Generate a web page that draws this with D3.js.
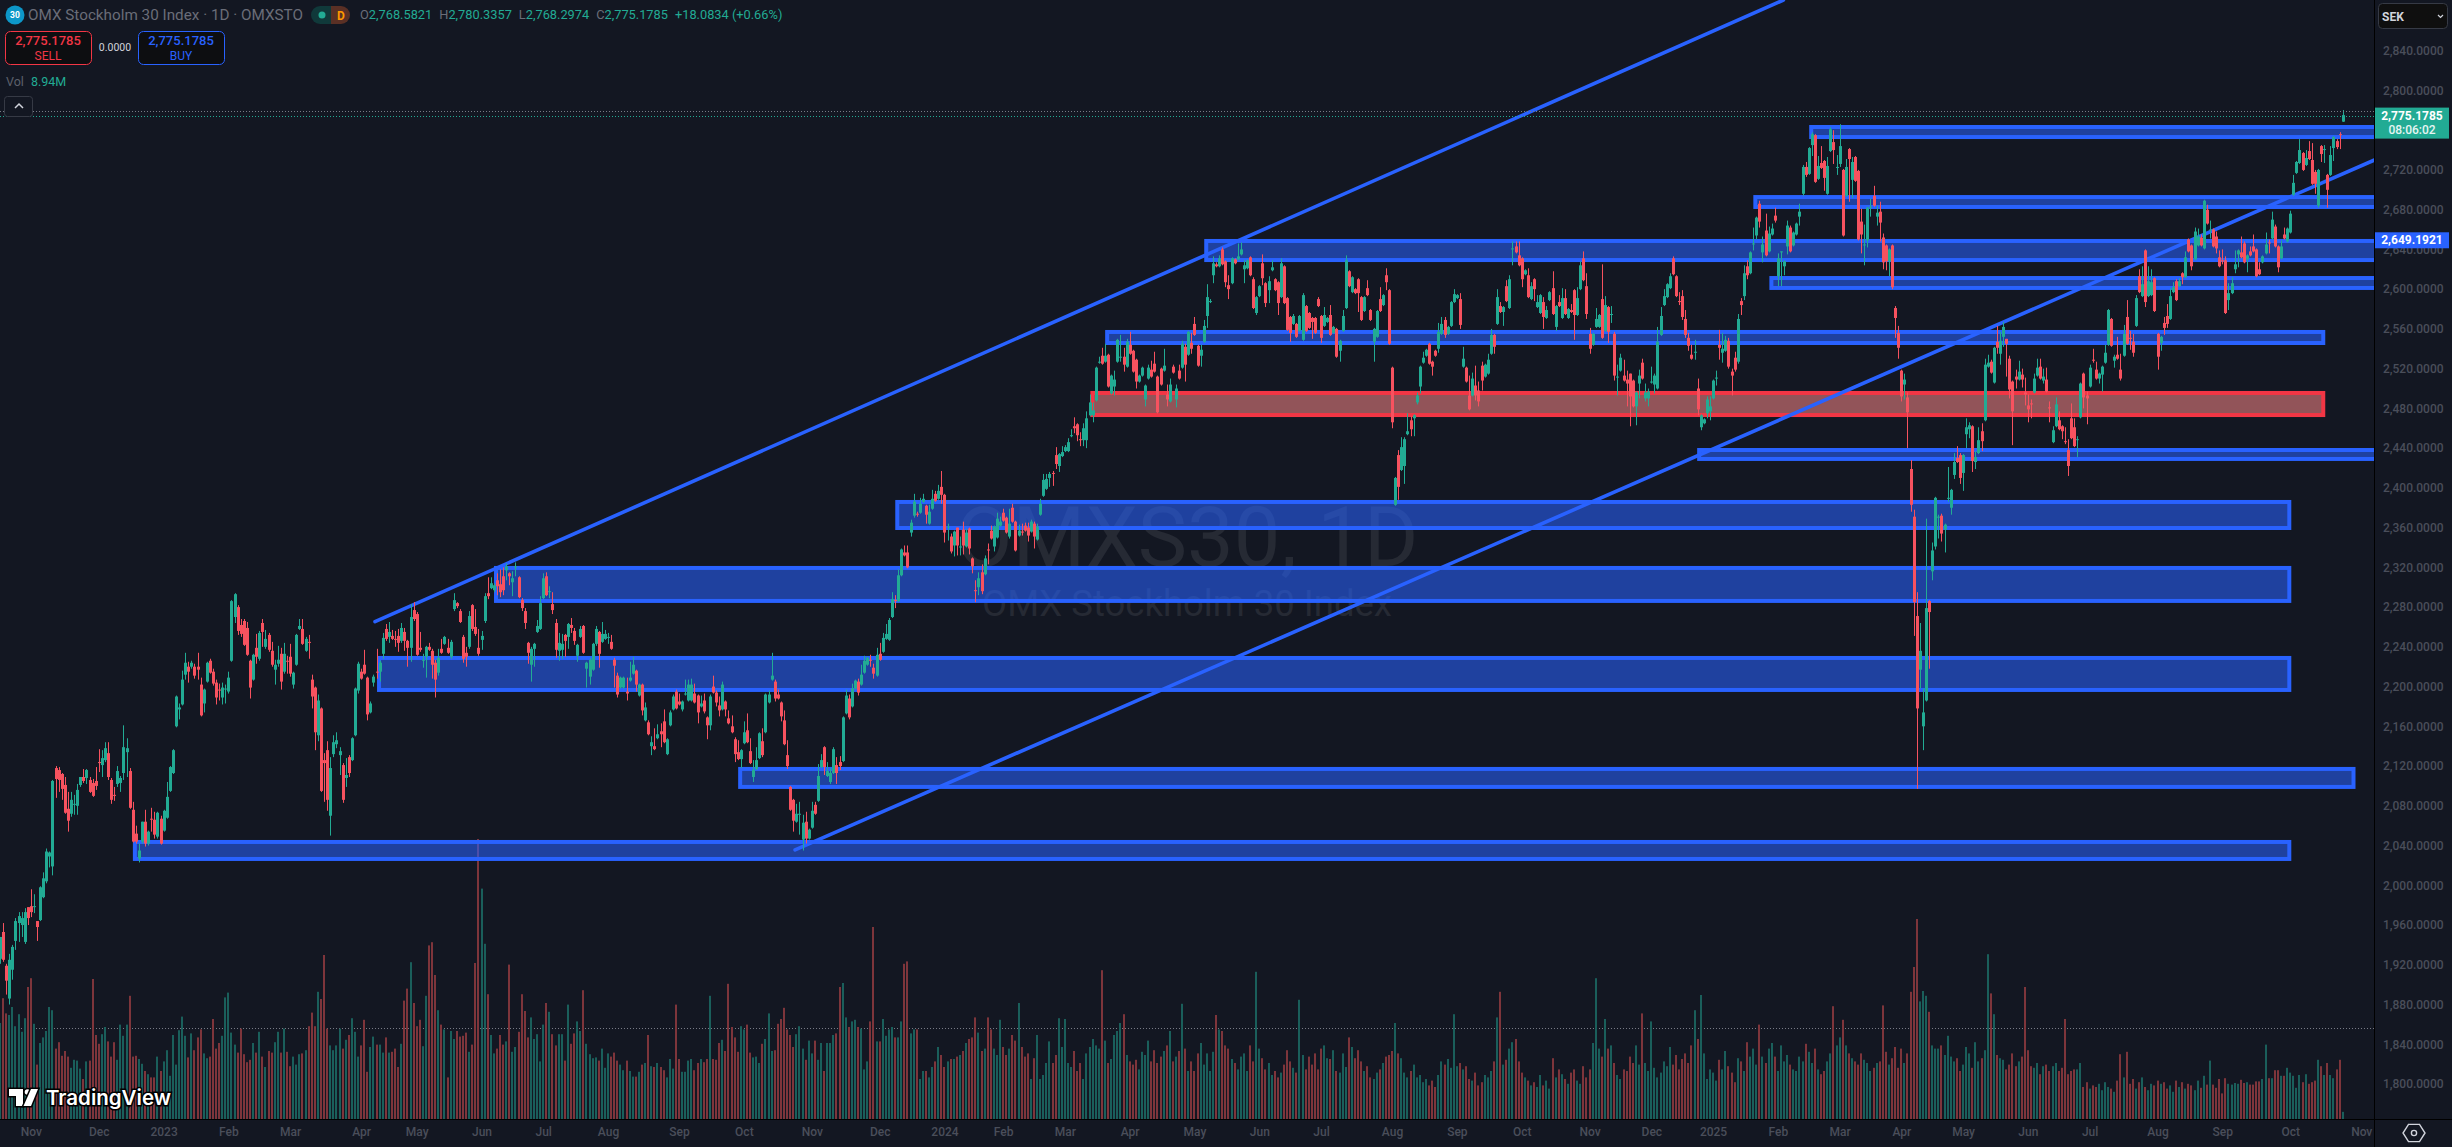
<!DOCTYPE html>
<html>
<head>
<meta charset="utf-8">
<title>OMX Stockholm 30 Index</title>
<script src="https://cdn.jsdelivr.net/npm/d3@7/dist/d3.min.js"></script>
<style>
html,body{margin:0;padding:0;background:#131722;overflow:hidden}
svg{display:block}
text{font-family:Roboto,"Noto Sans",sans-serif}
</style>
</head>
<body>
<script>
// Daily open / high / low / close, one row of the source table per 20 sessions
const opens = [
1926,1953,1919,1886,1915,1944,1962,1960,1943,1978,1979,1978,1964,1965,1988,2004,2029,2019,2118,2116,
2112,2101,2077,2072,2081,2080,2101,2109,2108,2106,2103,2105,2124,2121,2126,2133,2106,2091,2102,2103,
2113,2134,2115,2076,2052,2027,2044,2064,2042,2067,2066,2049,2067,2055,2068,2095,2113,2160,2177,2182,
2212,2220,2220,2220,2220,2202,2183,2205,2226,2215,2204,2197,2189,2197,2195,2226,2270,2280,2262,2266,
2259,2226,2207,2239,2228,2264,2240,2252,2236,2217,2223,2233,2215,2226,2230,2202,2222,2258,2258,2236,
2245,2207,2199,2151,2178,2126,2136,2070,2132,2142,2131,2121,2108,2129,2126,2151,2196,2215,2222,2209,
2174,2204,2215,2215,2233,2258,2250,2251,2248,2251,2246,2255,2246,2239,2277,2273,2239,2226,2230,2240,
2236,2224,2214,2238,2243,2239,2230,2278,2284,2276,2250,2234,2240,2282,2260,2239,2247,2266,2294,2299,
2297,2307,2303,2311,2317,2314,2305,2320,2310,2287,2276,2244,2222,2238,2255,2258,2289,2311,2295,2283,
2264,2236,2237,2252,2250,2262,2256,2231,2250,2261,2218,2210,2217,2243,2255,2245,2248,2249,2245,2227,
2211,2199,2199,2195,2206,2213,2216,2191,2202,2166,2164,2140,2140,2148,2155,2165,2132,2161,2177,2195,
2185,2177,2192,2186,2186,2193,2191,2180,2186,2169,2161,2200,2194,2181,2177,2185,2168,2160,2147,2134,
2127,2143,2156,2135,2109,2117,2128,2145,2154,2184,2207,2205,2192,2184,2166,2131,2099,2086,2064,2071,
2046,2064,2047,2058,2081,2085,2119,2139,2110,2104,2113,2121,2124,2125,2173,2188,2180,2198,2205,2202,
2214,2222,2227,2219,2211,2233,2235,2248,2247,2270,2287,2286,2312,2335,2335,2355,2372,2374,2375,2386,
2382,2364,2379,2394,2389,2401,2393,2360,2351,2342,2360,2340,2358,2341,2359,2329,2297,2300,2315,2313,
2338,2357,2341,2350,2362,2375,2370,2351,2380,2366,2352,2356,2362,2360,2356,2364,2348,2373,2392,2399,
2410,2415,2433,2422,2432,2437,2437,2452,2462,2464,2449,2448,2448,2473,2473,2488,2526,2533,2527,2534,
2495,2502,2527,2531,2532,2522,2544,2538,2529,2507,2513,2489,2510,2519,2525,2512,2520,2518,2494,2487,
2522,2489,2518,2521,2542,2534,2546,2565,2543,2533,2547,2573,2587,2614,2625,2623,2640,2628,2604,2606,
2630,2630,2635,2620,2621,2632,2610,2576,2593,2626,2606,2599,2619,2610,2607,2592,2623,2591,2572,2565,
2565,2558,2549,2583,2576,2571,2571,2590,2573,2563,2567,2574,2556,2560,2538,2558,2581,2618,2597,2600,
2610,2592,2578,2601,2579,2547,2552,2590,2584,2614,2599,2521,2383,2433,2418,2422,2454,2468,2470,2486,
2502,2526,2533,2545,2527,2538,2540,2555,2569,2555,2563,2587,2591,2590,2522,2521,2493,2493,2503,2498,
2523,2512,2515,2535,2554,2565,2583,2577,2603,2581,2640,2643,2634,2631,2615,2614,2590,2610,2582,2576,
2587,2571,2589,2601,2562,2587,2571,2591,2571,2579,2599,2574,2600,2631,2603,2555,2544,2562,2562,2590,
2558,2582,2574,2555,2511,2518,2513,2509,2515,2508,2482,2505,2526,2490,2490,2506,2504,2500,2554,2584,
2592,2601,2631,2613,2588,2593,2570,2551,2534,2536,2500,2461,2465,2475,2477,2490,2510,2544,2536,2538,
2548,2517,2531,2527,2588,2593,2623,2616,2645,2654,2686,2637,2659,2638,2655,2674,2613,2637,2623,2643,
2662,2644,2655,2673,2696,2723,2716,2745,2755,2711,2727,2729,2696,2739,2748,2722,2726,2720,2694,2741,
2710,2733,2719,2668,2644,2649,2682,2694,2673,2678,2652,2644,2628,2644,2581,2556,2518,2504,2491,2419,
2371,2271,2217,2160,2186,2286,2316,2341,2370,2372,2358,2389,2380,2413,2430,2433,2415,2454,2459,2462,
2426,2435,2457,2468,2522,2527,2506,2547,2535,2552,2550,2530,2507,2512,2509,2514,2496,2483,2485,2496,
2513,2522,2508,2509,2481,2446,2462,2468,2462,2447,2438,2470,2461,2448,2471,2515,2493,2502,2529,2519,
2510,2514,2526,2544,2570,2528,2534,2519,2533,2572,2551,2547,2563,2613,2593,2639,2593,2594,2611,2555,
2546,2566,2573,2570,2597,2608,2603,2616,2612,2650,2644,2630,2644,2652,2641,2680,2659,2660,2653,2632,
2629,2629,2589,2596,2620,2635,2637,2646,2630,2638,2643,2640,2620,2627,2636,2647,2651,2663,2643,2631,
2655,2648,2657,2695,2717,2727,2737,2725,2739,2730,2718,2684,2744,2740,2715,2715,2742,2749,2756,2768.5821
];
const highs = [
1948,1962,1921,1931,1940,1967,1973,1973,1977,1978,1996,1991,1964,1999,2013,2037,2034,2106,2120,2119,
2113,2109,2094,2094,2091,2102,2109,2117,2117,2109,2107,2119,2137,2136,2144,2144,2108,2099,2120,2110,
2161,2148,2118,2084,2060,2042,2064,2076,2055,2078,2074,2074,2070,2076,2104,2120,2137,2191,2183,2216,
2234,2225,2226,2223,2234,2209,2198,2225,2228,2218,2207,2203,2204,2202,2215,2287,2294,2282,2268,2268,
2265,2227,2233,2253,2256,2268,2257,2254,2245,2227,2241,2239,2244,2231,2243,2215,2253,2268,2268,2250,
2252,2212,2200,2192,2179,2133,2145,2129,2151,2154,2139,2123,2128,2131,2149,2199,2225,2218,2237,2210,
2185,2212,2238,2226,2254,2263,2265,2257,2256,2258,2264,2259,2247,2283,2285,2275,2255,2233,2241,2244,
2238,2227,2238,2248,2251,2248,2247,2294,2285,2278,2252,2240,2276,2283,2278,2258,2256,2294,2310,2310,
2304,2314,2318,2320,2324,2315,2316,2325,2311,2289,2279,2245,2240,2244,2267,2291,2314,2315,2301,2295,
2268,2254,2253,2253,2264,2269,2259,2243,2261,2262,2225,2229,2244,2261,2256,2265,2257,2254,2252,2229,
2214,2210,2210,2209,2225,2230,2217,2203,2203,2184,2166,2150,2158,2162,2163,2177,2148,2176,2192,2197,
2193,2186,2207,2207,2208,2203,2192,2191,2193,2170,2192,2211,2196,2190,2205,2186,2176,2171,2149,2146,
2137,2165,2173,2148,2126,2139,2154,2158,2193,2196,2234,2207,2197,2185,2176,2146,2100,2087,2082,2084,
2071,2074,2057,2084,2084,2122,2132,2140,2124,2118,2139,2129,2130,2170,2197,2192,2203,2207,2208,2222,
2231,2230,2232,2223,2239,2244,2254,2263,2269,2295,2292,2318,2339,2342,2342,2368,2394,2376,2390,2394,
2383,2383,2398,2397,2403,2417,2394,2364,2354,2357,2360,2351,2366,2359,2360,2330,2307,2315,2323,2332,
2344,2362,2362,2375,2371,2379,2371,2379,2384,2367,2363,2364,2365,2365,2368,2366,2364,2389,2414,2414,
2416,2417,2441,2435,2442,2443,2450,2459,2471,2465,2456,2465,2477,2494,2486,2522,2532,2541,2545,2535,
2514,2518,2550,2554,2541,2550,2557,2539,2530,2514,2522,2504,2524,2528,2537,2513,2521,2540,2504,2510,
2524,2504,2524,2548,2545,2558,2556,2572,2544,2544,2569,2605,2590,2633,2627,2634,2642,2629,2614,2632,
2631,2646,2647,2629,2630,2633,2612,2593,2604,2635,2607,2613,2629,2611,2608,2631,2624,2592,2573,2575,
2566,2574,2596,2584,2577,2572,2572,2592,2574,2582,2572,2584,2563,2561,2549,2579,2634,2619,2613,2601,
2611,2593,2593,2609,2580,2561,2579,2602,2595,2621,2600,2522,2411,2438,2451,2451,2475,2472,2474,2496,
2523,2537,2540,2546,2528,2539,2566,2572,2572,2563,2588,2600,2595,2596,2542,2522,2513,2516,2523,2507,
2527,2525,2535,2560,2555,2600,2587,2583,2609,2614,2648,2648,2648,2632,2620,2621,2607,2611,2594,2595,
2592,2583,2598,2618,2584,2594,2601,2600,2581,2585,2600,2602,2628,2638,2616,2561,2556,2581,2575,2625,
2593,2583,2583,2557,2524,2535,2529,2518,2515,2509,2497,2519,2530,2505,2500,2522,2515,2562,2582,2600,
2606,2616,2633,2614,2597,2599,2579,2556,2544,2549,2510,2474,2470,2492,2492,2509,2518,2559,2556,2553,
2551,2520,2537,2575,2591,2624,2629,2638,2662,2673,2689,2653,2676,2663,2666,2682,2636,2638,2629,2669,
2664,2658,2667,2686,2725,2728,2743,2758,2756,2734,2744,2730,2733,2763,2760,2735,2766,2721,2731,2742,
2733,2734,2720,2681,2665,2683,2691,2704,2684,2688,2656,2645,2641,2645,2583,2563,2519,2515,2496,2428,
2378,2295,2264,2198,2369,2287,2345,2391,2373,2374,2364,2421,2399,2435,2442,2435,2434,2470,2466,2463,
2437,2461,2465,2530,2534,2529,2542,2563,2557,2567,2550,2533,2508,2519,2528,2520,2511,2494,2489,2515,
2530,2530,2520,2521,2487,2462,2491,2477,2463,2461,2449,2485,2470,2452,2506,2516,2497,2524,2540,2527,
2516,2523,2544,2580,2571,2534,2552,2535,2564,2589,2558,2555,2594,2620,2623,2640,2623,2620,2612,2556,
2553,2572,2585,2601,2607,2610,2611,2617,2638,2651,2645,2662,2661,2655,2690,2685,2669,2661,2658,2639,
2640,2633,2606,2612,2639,2640,2653,2648,2635,2643,2655,2641,2627,2634,2657,2650,2678,2665,2644,2649,
2662,2662,2679,2715,2729,2751,2738,2740,2749,2747,2720,2721,2745,2745,2716,2744,2754,2751,2758,2780.3357
];
const lows = [
1921,1923,1890,1880,1905,1935,1943,1948,1941,1960,1968,1972,1944,1964,1987,2002,2018,2010,2088,2094,
2086,2072,2054,2069,2071,2071,2099,2103,2102,2093,2089,2096,2114,2109,2124,2106,2082,2085,2099,2094,
2106,2109,2077,2043,2042,2023,2042,2039,2040,2054,2047,2047,2041,2054,2067,2094,2112,2159,2167,2181,
2207,2204,2218,2208,2207,2170,2174,2204,2213,2201,2182,2186,2182,2183,2193,2225,2264,2252,2250,2241,
2231,2188,2206,2223,2226,2240,2238,2235,2220,2202,2220,2197,2213,2213,2210,2198,2221,2257,2242,2235,
2228,2178,2136,2145,2094,2084,2075,2050,2129,2138,2111,2083,2099,2109,2125,2150,2193,2207,2212,2166,
2173,2200,2208,2205,2228,2246,2244,2247,2240,2235,2244,2236,2220,2225,2266,2231,2235,2219,2209,2236,
2208,2189,2211,2233,2242,2233,2228,2276,2279,2264,2224,2220,2238,2256,2251,2231,2237,2264,2288,2298,
2295,2292,2290,2292,2307,2302,2291,2311,2289,2276,2258,2223,2205,2220,2254,2257,2288,2291,2289,2273,
2229,2226,2228,2230,2238,2254,2242,2225,2249,2233,2199,2202,2216,2241,2219,2244,2247,2243,2237,2199,
2189,2198,2198,2186,2205,2212,2195,2190,2171,2165,2151,2131,2136,2147,2139,2143,2131,2160,2176,2177,
2181,2175,2191,2185,2185,2183,2163,2179,2173,2147,2156,2193,2180,2170,2176,2170,2162,2153,2124,2126,
2118,2142,2143,2122,2104,2116,2127,2129,2153,2183,2206,2185,2187,2165,2141,2117,2075,2054,2063,2051,
2035,2042,2046,2057,2071,2084,2118,2111,2109,2102,2112,2102,2116,2124,2172,2167,2179,2197,2191,2201,
2213,2221,2220,2208,2210,2226,2234,2247,2246,2269,2279,2285,2311,2331,2319,2351,2370,2371,2374,2385,
2364,2363,2378,2386,2388,2384,2345,2347,2334,2331,2332,2332,2333,2340,2333,2314,2285,2292,2293,2312,
2323,2348,2336,2349,2361,2366,2354,2349,2365,2336,2351,2352,2356,2346,2355,2339,2347,2372,2391,2398,
2401,2402,2419,2416,2431,2436,2436,2451,2455,2447,2442,2442,2440,2472,2466,2487,2525,2524,2526,2501,
2494,2493,2526,2527,2517,2521,2534,2516,2500,2506,2512,2482,2509,2511,2516,2475,2503,2517,2482,2486,
2515,2481,2509,2520,2507,2533,2535,2553,2522,2522,2546,2561,2586,2606,2622,2622,2624,2602,2590,2605,
2625,2629,2634,2606,2620,2613,2580,2574,2592,2604,2582,2586,2618,2598,2574,2591,2585,2558,2547,2564,
2551,2557,2548,2557,2560,2550,2555,2582,2546,2562,2566,2553,2555,2531,2527,2557,2580,2602,2596,2595,
2577,2568,2577,2593,2568,2527,2551,2577,2583,2599,2544,2460,2382,2388,2417,2404,2453,2452,2452,2484,
2495,2525,2532,2524,2513,2532,2536,2554,2551,2554,2562,2586,2590,2560,2521,2506,2478,2492,2488,2482,
2498,2511,2514,2534,2535,2564,2576,2563,2587,2580,2624,2636,2623,2602,2614,2591,2589,2588,2581,2575,
2560,2570,2588,2574,2558,2582,2570,2574,2570,2576,2549,2573,2599,2608,2570,2535,2543,2561,2561,2550,
2557,2546,2566,2508,2493,2517,2507,2482,2462,2481,2463,2490,2509,2487,2482,2505,2495,2499,2553,2583,
2591,2600,2614,2592,2584,2569,2551,2538,2529,2529,2473,2458,2464,2470,2468,2489,2503,2529,2526,2537,
2520,2493,2517,2525,2574,2589,2610,2615,2639,2650,2662,2627,2633,2637,2654,2667,2603,2603,2614,2635,
2637,2643,2654,2664,2694,2713,2715,2734,2707,2710,2721,2699,2695,2738,2726,2715,2723,2653,2693,2688,
2692,2708,2649,2636,2624,2642,2673,2683,2664,2648,2620,2619,2613,2600,2551,2530,2487,2489,2440,2376,
2251,2097,2198,2136,2185,2218,2307,2338,2349,2346,2335,2386,2373,2409,2425,2404,2397,2440,2450,2416,
2419,2434,2437,2467,2521,2515,2505,2535,2524,2542,2512,2490,2443,2500,2508,2501,2483,2466,2470,2495,
2512,2509,2505,2496,2466,2445,2461,2458,2449,2444,2412,2449,2441,2431,2470,2480,2464,2501,2526,2509,
2505,2497,2525,2543,2542,2521,2529,2508,2532,2544,2539,2532,2562,2596,2592,2582,2592,2593,2577,2519,
2538,2554,2561,2569,2596,2588,2602,2605,2611,2637,2619,2629,2643,2643,2640,2665,2651,2642,2636,2622,
2625,2575,2579,2595,2616,2622,2631,2626,2617,2633,2637,2612,2614,2626,2635,2636,2650,2642,2617,2630,
2650,2647,2656,2694,2716,2726,2719,2724,2730,2705,2696,2682,2728,2727,2682,2714,2729,2741,2741,2768.2974
];
const closes = [
1948,1925,1904,1925,1938,1964,1969,1967,1973,1967,1973,1979,1958,1998,2007,2034,2033,2105,2107,2106,
2097,2073,2065,2086,2082,2096,2109,2105,2116,2094,2090,2100,2123,2128,2138,2109,2086,2090,2115,2108,
2139,2138,2078,2044,2044,2035,2064,2042,2054,2066,2051,2073,2042,2075,2089,2119,2136,2190,2179,2207,
2224,2215,2224,2211,2217,2171,2197,2224,2214,2203,2189,2196,2199,2198,2209,2286,2293,2256,2253,2242,
2232,2199,2232,2230,2254,2255,2248,2237,2222,2222,2227,2205,2233,2225,2213,2214,2252,2261,2243,2248,
2244,2190,2154,2186,2095,2123,2086,2118,2144,2146,2135,2086,2111,2113,2148,2198,2223,2208,2213,2172,
2183,2210,2214,2224,2249,2248,2255,2248,2247,2244,2259,2246,2239,2270,2268,2232,2237,2227,2240,2237,
2222,2207,2229,2234,2250,2234,2245,2287,2281,2265,2228,2230,2271,2258,2253,2233,2251,2291,2291,2304,
2302,2301,2295,2297,2321,2311,2309,2321,2290,2279,2264,2234,2238,2243,2261,2284,2309,2292,2296,2277,
2237,2244,2243,2246,2263,2259,2246,2242,2258,2234,2224,2227,2243,2258,2233,2253,2253,2250,2238,2221,
2192,2209,2209,2193,2209,2222,2202,2202,2176,2179,2152,2144,2137,2152,2152,2144,2147,2174,2190,2178,
2182,2185,2193,2202,2202,2184,2174,2183,2175,2161,2190,2194,2184,2176,2202,2177,2163,2154,2132,2127,
2136,2154,2144,2123,2116,2126,2153,2131,2192,2192,2211,2188,2188,2170,2142,2120,2076,2065,2072,2072,
2063,2047,2056,2075,2072,2110,2126,2119,2115,2113,2137,2113,2120,2169,2191,2169,2198,2206,2194,2212,
2226,2229,2226,2213,2232,2227,2249,2253,2267,2288,2286,2312,2338,2332,2320,2365,2386,2373,2384,2389,
2373,2376,2389,2387,2397,2393,2355,2361,2336,2356,2342,2341,2342,2355,2339,2321,2296,2309,2296,2329,
2337,2349,2361,2369,2366,2367,2355,2364,2366,2337,2357,2355,2357,2352,2366,2351,2361,2384,2408,2409,
2414,2414,2424,2434,2436,2441,2446,2453,2460,2453,2448,2460,2470,2486,2478,2521,2527,2525,2533,2502,
2513,2509,2549,2532,2524,2547,2535,2517,2507,2513,2521,2503,2521,2512,2517,2476,2504,2523,2489,2504,
2516,2500,2510,2545,2524,2557,2540,2554,2523,2539,2563,2592,2588,2626,2623,2631,2625,2607,2600,2631,
2626,2633,2640,2624,2629,2614,2581,2592,2603,2611,2586,2608,2622,2599,2586,2626,2586,2559,2556,2573,
2552,2573,2594,2558,2561,2567,2556,2583,2551,2574,2571,2554,2562,2532,2548,2573,2629,2603,2612,2596,
2596,2569,2592,2594,2569,2560,2578,2578,2594,2607,2545,2466,2410,2401,2441,2449,2457,2459,2473,2493,
2522,2531,2539,2525,2522,2533,2557,2565,2554,2562,2587,2595,2594,2564,2530,2507,2479,2510,2493,2487,
2508,2524,2529,2554,2542,2592,2577,2582,2588,2610,2641,2637,2624,2610,2619,2592,2603,2600,2587,2594,
2572,2579,2597,2575,2583,2583,2591,2575,2580,2577,2574,2591,2624,2609,2575,2540,2555,2570,2574,2551,
2584,2557,2575,2513,2512,2531,2508,2505,2492,2482,2496,2513,2510,2496,2497,2507,2513,2547,2573,2593,
2605,2613,2615,2593,2587,2572,2554,2543,2530,2537,2479,2473,2469,2489,2482,2508,2511,2541,2540,2549,
2522,2513,2519,2570,2584,2616,2614,2637,2646,2672,2668,2645,2634,2656,2661,2669,2631,2638,2628,2664,
2638,2657,2666,2678,2723,2715,2742,2756,2708,2724,2722,2712,2724,2761,2740,2723,2744,2654,2723,2731,
2728,2709,2650,2655,2645,2682,2683,2684,2677,2667,2627,2628,2640,2602,2571,2541,2492,2509,2476,2383,
2285,2178,2236,2174,2279,2275,2337,2390,2371,2354,2363,2390,2398,2426,2426,2410,2433,2461,2463,2427,
2431,2448,2447,2524,2526,2516,2541,2541,2548,2562,2545,2499,2477,2509,2517,2509,2494,2479,2484,2510,
2521,2510,2512,2497,2480,2458,2484,2459,2457,2446,2422,2450,2442,2449,2505,2491,2490,2521,2528,2510,
2515,2522,2536,2579,2543,2532,2530,2510,2555,2545,2550,2536,2591,2597,2605,2587,2608,2607,2578,2532,
2552,2561,2565,2593,2602,2589,2608,2612,2632,2638,2623,2658,2653,2644,2689,2666,2660,2643,2641,2623,
2628,2576,2596,2606,2625,2639,2632,2627,2634,2634,2638,2613,2615,2633,2645,2646,2670,2643,2622,2643,
2651,2661,2676,2707,2728,2740,2720,2732,2731,2706,2706,2720,2736,2741,2700,2735,2753,2743,2755,2775.1785
];
// Session volume in millions of shares
const volumes = [
120,151,132,130,140,116,131,109,126,165,176,119,68,95,102,110,140,136,88,96,
79,85,78,64,74,73,63,50,72,73,175,105,94,106,115,97,78,96,74,118,
104,118,154,78,79,75,69,60,56,52,52,78,60,72,86,54,105,68,111,128,
104,77,107,86,102,112,82,76,78,125,88,95,104,152,158,108,93,83,113,81,
71,74,95,83,109,78,65,85,83,96,109,83,113,84,66,78,68,81,82,86,
116,133,116,159,150,205,113,92,86,92,113,88,99,105,126,109,78,92,124,59,
90,103,93,93,83,102,83,84,88,65,94,148,163,196,145,116,124,91,154,217,
221,180,136,118,112,52,110,100,110,103,104,108,84,93,195,350,288,219,156,105,
82,88,105,93,97,193,84,90,109,156,135,102,127,100,106,72,118,145,134,106,
92,106,106,73,143,94,107,122,110,161,94,81,76,77,73,88,64,82,78,83,
73,68,61,73,60,53,53,59,68,70,105,66,65,70,65,61,52,75,63,143,
75,59,59,73,75,61,70,75,71,75,154,75,74,95,99,85,169,115,102,84,
116,112,118,83,77,78,70,94,100,132,85,86,119,125,139,112,105,90,106,116,
88,74,98,82,98,74,95,60,95,95,105,107,165,170,127,115,122,124,115,113,
62,72,122,240,97,97,125,104,112,115,102,102,122,194,197,107,112,112,50,60,
60,52,65,72,90,80,65,72,75,75,78,80,85,95,100,102,127,108,85,88,
127,112,88,80,124,90,80,88,105,98,145,90,78,82,50,76,105,50,55,70,
97,70,80,126,90,125,70,65,85,60,70,50,82,90,100,92,88,186,98,70,
75,105,110,120,131,80,72,68,74,62,84,80,98,72,86,70,78,85,92,110,
72,78,85,144,88,60,72,60,82,95,68,82,60,84,130,112,110,92,88,75,
70,62,78,82,60,92,72,184,88,76,62,70,55,60,52,58,68,86,72,64,
58,149,80,62,78,68,82,62,88,92,76,75,86,60,58,82,65,102,90,76,
86,72,60,66,52,50,58,62,70,78,80,85,120,82,76,58,52,60,68,52,
55,46,50,42,48,40,55,72,68,75,64,131,66,70,62,66,50,48,58,42,
46,55,52,60,72,127,159,68,74,88,96,100,72,58,52,48,42,46,40,55,
42,48,38,76,52,62,56,50,44,58,62,48,44,66,52,62,95,176,88,78,
125,88,92,70,55,50,62,60,78,70,92,68,132,70,60,122,64,52,58,72,
66,90,68,80,62,75,82,70,92,136,100,155,82,50,62,58,48,74,62,85,
66,58,46,76,72,60,96,78,88,68,118,78,70,88,95,78,60,92,72,80,
68,62,60,78,72,94,84,70,88,62,56,60,72,82,141,92,102,124,92,82,
76,72,68,82,74,70,60,64,70,72,142,84,68,76,90,64,88,70,82,159,
190,250,147,160,154,134,92,88,88,92,80,104,78,72,76,60,68,90,82,64,
96,72,76,86,206,157,131,80,76,74,62,68,82,66,72,78,165,86,66,64,
70,56,66,68,60,66,70,60,64,125,56,60,62,62,70,40,46,38,42,40,
44,36,46,40,38,34,48,81,52,84,44,50,38,46,52,40,36,44,42,48,
44,46,38,42,34,48,40,46,38,44,42,36,48,39,54,43,73,43,39,50,
32,51,44,43,45,44,49,45,46,43,43,47,47,50,93,51,51,61,61,54,
54,64,58,54,39,55,46,56,44,46,48,74,66,55,70,55,51,62,74,8.94
];

// Horizontal zones: first bar, last bar, upper price, lower price
const zoneStart = [43.7,239.8,122.8,160.7,290.7,550.5,358.7,568.7,573.9,390.8,586.8];
const zoneEnd   = [741.7,762.5,741.7,741.7,741.7,790,752.7,790,790,790,790];
const zoneTop   = [2043.6,2117.1,2228.8,2319.4,2385.8,2438.1,2556.9,2692.7,2611.2,2648.5,2763.2];
const zoneBase  = [2026.5,2099.0,2196.6,2286.2,2359.6,2429.1,2545.8,2682.7,2601.2,2629.3,2753.1];
// Demand zone drawn in red
const redZone = {start:353.9,end:752.7,top:2495.5,base:2473.3};

// Rising trend lines: bar and price at each end
const upperTrend = {bars:[121.5,577.8],prices:[2265.3,2891]};
const lowerTrend = {bars:[257.6,769.3],prices:[2035.6,2730]};

// Axis labels
const monthBars = [10,32,53,74,94,117,135,156,176,197,220,241,263,285,306,325,345,366,387,408,428,451,472,493,515,535,555,576,596,616,636,657,677,699,720,742,765];
const monthLabels = ["Nov","Dec","2023","Feb","Mar","Apr","May","Jun","Jul","Aug","Sep","Oct","Nov","Dec","2024","Feb","Mar","Apr","May","Jun","Jul","Aug","Sep","Oct","Nov","Dec","2025","Feb","Mar","Apr","May","Jun","Jul","Aug","Sep","Oct","Nov"];
const priceTicks = d3.range(1800,2841,40);

const lastClose = 2775.1785, sessionHigh = 2779, zoneLabel = 2649.1921, avgVolume = 114;

const W = 2452, H = 1147, plotRight = 2374, plotBottom = 1119;
const BG = "#131722", UP = "#22ab94", DOWN = "#f7525f", BLUE = "#2962ff", RED = "#f23645", AXIS = "#4a4e5a";

const n = closes.length;
const x = d3.scaleLinear().domain([0,n-1]).range([0,2342.7]);
const y = d3.scaleLinear().domain([2840,1800]).range([50.7,1084]);
const v = d3.scaleLinear().domain([0,350]).range([plotBottom,plotBottom-280]);
const isUp = i => closes[i] >= opens[i];
const px = i => Math.round(x(i));

const svg = d3.select("body").append("svg").attr("width",W).attr("height",H);
svg.append("rect").attr("width",W).attr("height",H).attr("fill",BG);
svg.append("clipPath").attr("id","plot").append("rect").attr("width",plotRight).attr("height",plotBottom);

// Symbol watermark behind the series
const wm = svg.append("g").attr("fill","#262a34").attr("text-anchor","middle").style("font-family","'Liberation Sans',sans-serif");
wm.append("text").attr("x",1187).attr("y",566).attr("font-size",83).text("OMXS30, 1D");
wm.append("text").attr("x",1187).attr("y",616).attr("font-size",36.5).text("OMX Stockholm 30 Index");

const plot = svg.append("g").attr("clip-path","url(#plot)");

// Volume pane
plot.append("line").attr("x1",0).attr("x2",plotRight).attr("y1",Math.round(v(avgVolume))+.5).attr("y2",Math.round(v(avgVolume))+.5)
  .attr("stroke","#787b86").attr("stroke-dasharray","1 2");
plot.append("g").selectAll("rect").data(d3.range(n)).join("rect")
  .attr("x",i=>px(i)-1).attr("width",2)
  .attr("y",i=>v(volumes[i])).attr("height",i=>plotBottom-v(volumes[i]))
  .attr("fill",i=>isUp(i)?"#1a5f5b":"#7e353b");

// Zones
plot.append("g").selectAll("rect").data(d3.range(zoneStart.length)).join("rect")
  .attr("x",i=>x(zoneStart[i])).attr("width",i=>x(zoneEnd[i])-x(zoneStart[i]))
  .attr("y",i=>y(zoneTop[i])).attr("height",i=>y(zoneBase[i])-y(zoneTop[i]))
  .attr("fill","rgba(41,98,255,0.57)").attr("stroke",BLUE).attr("stroke-width",4);
plot.append("rect")
  .attr("x",x(redZone.start)).attr("width",x(redZone.end)-x(redZone.start))
  .attr("y",y(redZone.top)).attr("height",y(redZone.base)-y(redZone.top))
  .attr("fill","#925459").attr("stroke",RED).attr("stroke-width",4);

// Trend lines
[upperTrend,lowerTrend].forEach(t=>{
  plot.append("line")
    .attr("x1",x(t.bars[0])).attr("y1",y(t.prices[0]))
    .attr("x2",x(t.bars[1])).attr("y2",y(t.prices[1]))
    .attr("stroke",BLUE).attr("stroke-width",3.6).attr("stroke-linecap","round");
});

// Candles
const candle = plot.append("g").selectAll("g").data(d3.range(n)).join("g")
  .attr("fill",i=>isUp(i)?UP:DOWN);
candle.append("rect").attr("x",px).attr("width",1)
  .attr("y",i=>y(highs[i])).attr("height",i=>Math.max(1,y(lows[i])-y(highs[i])));
candle.append("rect").attr("x",i=>px(i)-1).attr("width",3)
  .attr("y",i=>y(Math.max(opens[i],closes[i])))
  .attr("height",i=>Math.max(1,Math.abs(y(opens[i])-y(closes[i]))));

// Session high and last price lines
plot.append("line").attr("x1",0).attr("x2",plotRight).attr("y1",Math.round(y(sessionHigh))+.5).attr("y2",Math.round(y(sessionHigh))+.5)
  .attr("stroke","#787b86").attr("stroke-dasharray","1 2");
plot.append("line").attr("x1",0).attr("x2",plotRight).attr("y1",Math.round(y(lastClose))+1.5).attr("y2",Math.round(y(lastClose))+1.5)
  .attr("stroke",UP).attr("stroke-dasharray","1 2");

// Axes
const yAxis = svg.append("g").attr("transform",`translate(${plotRight},0)`)
  .call(d3.axisRight(y).tickValues(priceTicks).tickSize(0).tickPadding(9).tickFormat(d3.format(",.4f")));
const xAxis = svg.append("g").attr("transform",`translate(0,${plotBottom})`)
  .call(d3.axisBottom(x).tickValues(monthBars).tickSize(0).tickPadding(8).tickFormat((d,i)=>monthLabels[i]));
[yAxis,xAxis].forEach(a=>{
  a.select(".domain").remove();
  a.selectAll("text").attr("fill",AXIS).attr("font-size",12).style("font-family","Roboto,sans-serif").style("font-weight",500);
});
svg.append("line").attr("x1",plotRight+.5).attr("x2",plotRight+.5).attr("y1",0).attr("y2",H).attr("stroke","#000");
svg.append("line").attr("x1",0).attr("x2",W).attr("y1",plotBottom+.5).attr("y2",plotBottom+.5).attr("stroke","#000");

const fmt = d3.format(",.4f");
// Price tags on the axis
svg.append("rect").attr("x",plotRight+1).attr("y",y(lastClose)-7.5).attr("width",74).attr("height",31).attr("fill",UP);
svg.append("text").attr("x",plotRight+38).attr("y",y(lastClose)+5).attr("text-anchor","middle").attr("fill","#fff").attr("font-size",12).attr("font-weight",700).text(fmt(lastClose));
svg.append("text").attr("x",plotRight+38).attr("y",y(lastClose)+19).attr("text-anchor","middle").attr("fill","#e6f5f2").attr("font-size",12).attr("font-weight",500).text("08:06:02");
svg.append("rect").attr("x",plotRight+1).attr("y",y(zoneLabel)-8).attr("width",74).attr("height",16).attr("fill",BLUE);
svg.append("text").attr("x",plotRight+38).attr("y",y(zoneLabel)+4).attr("text-anchor","middle").attr("fill","#fff").attr("font-size",12).attr("font-weight",700).text(fmt(zoneLabel));

// Currency selector
svg.append("rect").attr("x",2378.5).attr("y",3.5).attr("width",69).attr("height",25).attr("rx",4).attr("fill","#0f0f0f").attr("stroke","#363a45");
svg.append("text").attr("x",2382).attr("y",20.5).attr("fill","#d1d4dc").attr("font-size",12).attr("font-weight",700).text("SEK");
svg.append("path").attr("d","M2438 15l2.5 2.5 2.5-2.5").attr("fill","none").attr("stroke","#d1d4dc").attr("stroke-width",1.2);

// Settings hexagon
const hex = d3.range(6).map(k=>{const a=Math.PI/3*k;return [2414+11*Math.cos(a),1133+10*Math.sin(a)];});
svg.append("path").attr("d",d3.line()(hex)+"Z").attr("fill","none").attr("stroke","#d1d4dc").attr("stroke-width",1.4);
svg.append("circle").attr("cx",2414).attr("cy",1133).attr("r",2.6).attr("fill","none").attr("stroke","#d1d4dc").attr("stroke-width",1.4);

// Header legend
svg.append("circle").attr("cx",15).attr("cy",15).attr("r",9.5).attr("fill","#0d97c9");
svg.append("text").attr("x",15).attr("y",18).attr("text-anchor","middle").attr("fill","#fff").attr("font-size",8.5).attr("font-weight",700).text("30");
svg.append("text").attr("x",28).attr("y",20).attr("fill","#6a6d78").attr("font-size",14.5).attr("textLength",275).attr("lengthAdjust","spacingAndGlyphs").text("OMX Stockholm 30 Index \u00b7 1D \u00b7 OMXSTO");
svg.append("path").attr("d","M331 6h-11a9 9 0 0 0 0 18h11z").attr("fill","#10393a");
svg.append("path").attr("d","M331 6h10a9 9 0 0 1 0 18h-10z").attr("fill","#5a3025");
svg.append("circle").attr("cx",322).attr("cy",15).attr("r",3.5).attr("fill",UP);
svg.append("text").attr("x",341).attr("y",19.5).attr("text-anchor","middle").attr("fill","#ff9800").attr("font-size",12).attr("font-weight",700).text("D");

const ohlc = svg.append("text").attr("x",360).attr("y",19).attr("font-size",12.8).attr("fill",UP);
[["O",opens[n-1]],["H",highs[n-1]],["L",lows[n-1]],["C",closes[n-1]]].forEach(([k,val],j)=>{
  ohlc.append("tspan").attr("fill","#6a6d78").attr("dx",j?7:0).text(k);
  ohlc.append("tspan").text(fmt(val));
});
ohlc.append("tspan").attr("dx",7).text("+18.0834 (+0.66%)");

// Order buttons
const order = (x0,col,label)=>{
  svg.append("rect").attr("x",x0+.5).attr("y",31.5).attr("width",86).attr("height",33).attr("rx",5).attr("fill","#0d0e11").attr("stroke",col);
  svg.append("text").attr("x",x0+43).attr("y",45).attr("text-anchor","middle").attr("fill",col).attr("font-size",13).attr("font-weight",500).text(fmt(lastClose));
  svg.append("text").attr("x",x0+43).attr("y",60).attr("text-anchor","middle").attr("fill",col).attr("font-size",12).text(label);
};
order(5,RED,"SELL");
order(138,BLUE,"BUY");
svg.append("text").attr("x",115).attr("y",51).attr("text-anchor","middle").attr("fill","#d1d4dc").attr("font-size",10.5).text("0.0000");

svg.append("text").attr("x",6).attr("y",86).attr("fill","#5d606b").attr("font-size",12.5).text("Vol");
svg.append("text").attr("x",31).attr("y",86).attr("fill",UP).attr("font-size",12.5).text(d3.format(".2f")(volumes[n-1])+"M");

svg.append("rect").attr("x",4.5).attr("y",96.5).attr("width",28).attr("height",20).attr("rx",3).attr("fill",BG).attr("stroke","#363a45");
svg.append("path").attr("d","M15 108l4-4 4 4").attr("fill","none").attr("stroke","#d1d4dc").attr("stroke-width",1.5);

// Brand mark
const brand = svg.append("g").attr("fill","#fff").attr("stroke","#000").attr("stroke-width",3).attr("paint-order","stroke");
brand.append("path").attr("d","M9 1089h14v17h-7v-10h-7z");
brand.append("circle").attr("cx",27.5).attr("cy",1092).attr("r",2.8);
brand.append("path").attr("d","M31 1089h7l-7 17h-7.5z");
brand.append("text").attr("x",46).attr("y",1105).attr("font-size",20.5).attr("font-weight",600).style("font-family","Inter,Roboto,sans-serif").text("TradingView");
</script>
</body>
</html>
